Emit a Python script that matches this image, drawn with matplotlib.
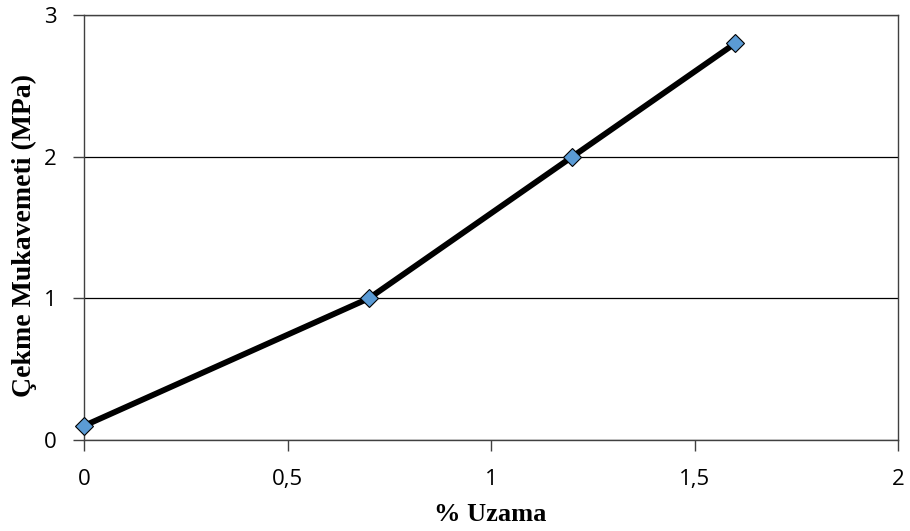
import matplotlib
matplotlib.use("Agg")
import matplotlib.pyplot as plt

# Elongation (%) vs tensile strength (MPa)
uzama = [0, 0.7, 1.2, 1.6]
mukavemet = [0.1, 1.0, 2.0, 2.8]
x_ticks = [0, 0.5, 1, 1.5, 2]
x_tick_labels = ["0", "0,5", "1", "1,5", "2"]
y_ticks = [0, 1, 2, 3]
y_tick_labels = ["0", "1", "2", "3"]

fig = plt.figure(figsize=(9.1, 5.31), dpi=100)
ax = fig.add_axes([84 / 910, 1 - 440 / 531, (898 - 84) / 910, (440 - 15) / 531])

ax.plot(uzama, mukavemet, color="black", linewidth=4.2, zorder=3,
        marker="D", markersize=9.5, markerfacecolor="#5B9BD5",
        markeredgecolor="black", markeredgewidth=0.8, clip_on=False)

ax.set_xlim(0, 2)
ax.set_ylim(0, 3)
ax.set_xticks(x_ticks)
ax.set_xticklabels(x_tick_labels)
ax.set_yticks(y_ticks)
ax.set_yticklabels(y_tick_labels)

ax.grid(axis="y", color="black", linewidth=0.9)
ax.set_axisbelow(True)
for side in ["left", "bottom", "right", "top"]:
    ax.spines[side].set_color("#404040")
    ax.spines[side].set_linewidth(1.0)

ax.tick_params(axis="both", direction="out", length=8, width=1.0,
               color="#404040", labelsize=16)
ax.tick_params(axis="x", pad=13)
ax.tick_params(axis="y", pad=12)
for lbl in ax.get_xticklabels() + ax.get_yticklabels():
    lbl.set_fontfamily("Open Sans")

ax.set_xlabel("% Uzama", fontsize=19, fontweight="bold",
              fontfamily="Liberation Serif")
ax.set_ylabel("Çekme Mukavemeti (MPa)", fontsize=20, fontweight="bold",
              fontfamily="Liberation Serif")
ax.xaxis.set_label_coords(0.499, -0.148)
ax.yaxis.set_label_coords(-0.058, 0.482)

fig.savefig("out.png", dpi=100)
